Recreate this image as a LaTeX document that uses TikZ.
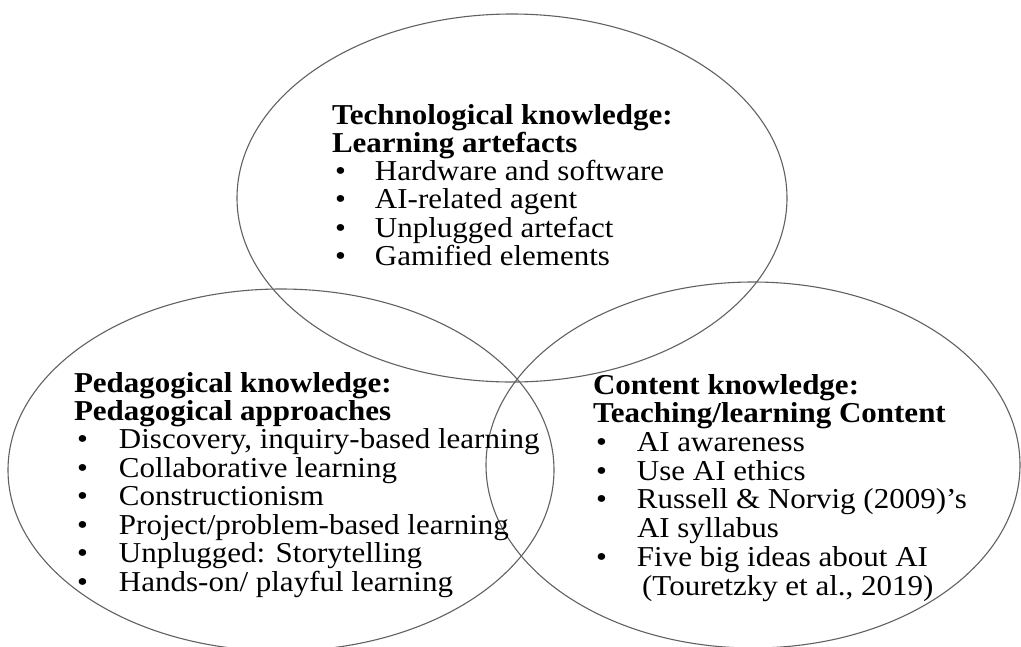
\documentclass[tikz,border=0pt]{standalone}
\usepackage{graphicx}
\usepackage{fontspec}
\setmainfont{Liberation Serif}
\usetikzlibrary{shapes.geometric}

% one line of a block: heading, bulleted item, or continuation of an item
\newcommand{\vhead}[1]{\hbox{\bfseries #1}}
\newcommand{\vitem}[2]{\hbox{\makebox[#1][l]{\hspace{3pt}\textbullet}#2}}
\newcommand{\vcont}[2]{\hbox{\hspace{#1}#2}}
% a block of lines, first baseline on the node's base, letters a little squat
\newcommand{\vblock}[2]{\scalebox{1}[0.93]{\vtop{\baselineskip=#1 #2}}}

\tikzset{
  venn/.style={ellipse, draw=black!62, line width=1.1pt, inner sep=0pt, outer sep=0pt},
  block/.style={anchor=base west, inner sep=0pt, outer sep=0pt,
                font=\fontsize{31}{30}\selectfont},
}

\begin{document}
\begin{tikzpicture}[x=1pt, y=1pt]
  \clip (0,0) rectangle (1021,-646);
  \useasboundingbox (0,0) rectangle (1021,-646);

  % the three overlapping areas of knowledge
  \node[venn, minimum width=550pt, minimum height=368pt] (tech) at (512,-198) {};
  \node[venn, minimum width=546pt, minimum height=362pt] (ped)  at (281,-470) {};
  \node[venn, minimum width=534pt, minimum height=366pt] (cont) at (753,-465) {};

  % technological knowledge
  \node[block] (techtxt) at (332,-124) {\vblock{30.4pt}{
    \vhead{Technological knowledge:}
    \vhead{Learning artefacts}
    \vitem{43pt}{Hardware and software}
    \vitem{43pt}{AI-related agent}
    \vitem{43pt}{Unplugged artefact}
    \vitem{43pt}{Gamified elements}}};

  % pedagogical knowledge
  \node[block] (pedtxt) at (74,-392) {\vblock{30.6pt}{
    \vhead{Pedagogical knowledge:}
    \vhead{Pedagogical approaches}
    \vitem{45pt}{Discovery, inquiry-based learning}
    \vitem{45pt}{Collaborative learning}
    \vitem{45pt}{Constructionism}
    \vitem{45pt}{Project/problem-based learning}
    \vitem{45pt}{Unplugged: Storytelling}
    \vitem{45pt}{Hands-on/ playful learning}}};

  % content knowledge
  \node[block] (conttxt) at (593,-394) {\vblock{30.9pt}{
    \vhead{Content knowledge:}
    \vhead{Teaching/learning Content}
    \vitem{44pt}{AI awareness}
    \vitem{44pt}{Use AI ethics}
    \vitem{44pt}{Russell \& Norvig (2009)’s}
    \vcont{44pt}{AI syllabus}
    \vitem{44pt}{Five big ideas about AI}
    \vcont{44pt}{\,(Touretzky et al., 2019)}}};
\end{tikzpicture}
\end{document}
